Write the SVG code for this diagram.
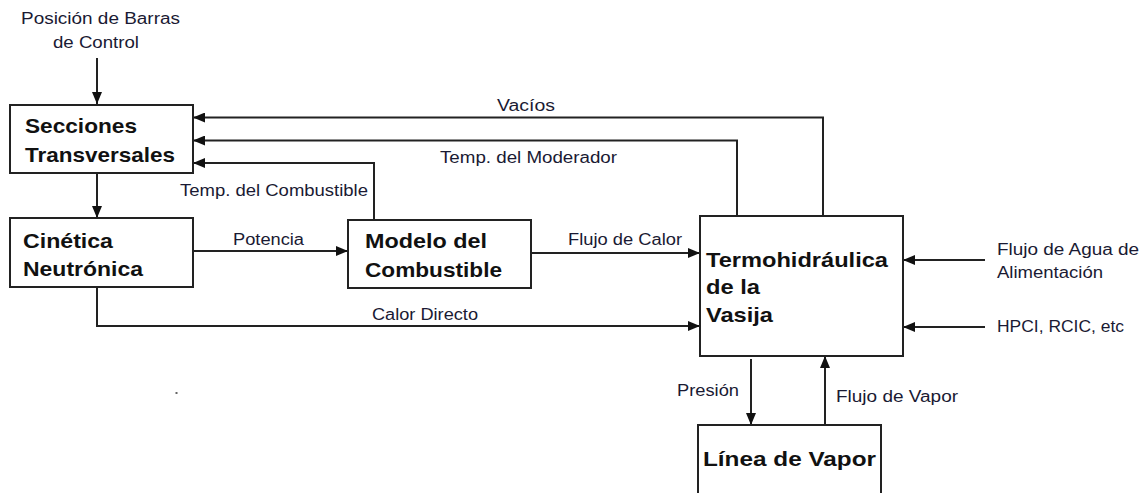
<svg xmlns="http://www.w3.org/2000/svg" width="1143" height="493" viewBox="0 0 1143 493">
<style>
.box{fill:#fff;stroke:#222;stroke-width:2}
.ln{fill:none;stroke:#222;stroke-width:2}
.t{font-family:"Liberation Sans",Arial,sans-serif;font-size:16px;fill:#1a1a33}
.b{font-family:"Liberation Sans",Arial,sans-serif;font-size:21px;font-weight:bold;fill:#111}
</style>
<defs>
<marker id="ah" viewBox="0 0 12 10" refX="12" refY="5" markerWidth="12" markerHeight="10" markerUnits="userSpaceOnUse" orient="auto">
<path d="M0,0 L12,5 L0,10 z" fill="#111"/>
</marker>
</defs>
<rect width="1143" height="493" fill="#fff"/>
<g id="connectors">
<path class="ln" d="M97,58 V104" marker-end="url(#ah)"/>
<path class="ln" d="M97,174 V218" marker-end="url(#ah)"/>
<path class="ln" d="M823,216 V117.5 H193" marker-end="url(#ah)"/>
<path class="ln" d="M737,216 V140.5 H193" marker-end="url(#ah)"/>
<path class="ln" d="M374,220 V163 H193" marker-end="url(#ah)"/>
<path class="ln" d="M193,251 H348" marker-end="url(#ah)"/>
<path class="ln" d="M531,253 H700" marker-end="url(#ah)"/>
<path class="ln" d="M97,287 V326 H700" marker-end="url(#ah)"/>
<path class="ln" d="M985,260 H903" marker-end="url(#ah)"/>
<path class="ln" d="M985,327 H903" marker-end="url(#ah)"/>
<path class="ln" d="M751,359 V425" marker-end="url(#ah)"/>
<path class="ln" d="M825,425 V356" marker-end="url(#ah)"/>
<text class="t" x="21" y="24" textLength="159" lengthAdjust="spacingAndGlyphs">Posición de Barras</text>
<text class="t" x="53" y="48" textLength="86" lengthAdjust="spacingAndGlyphs">de Control</text>
<text class="t" x="497" y="111" textLength="58" lengthAdjust="spacingAndGlyphs">Vacíos</text>
<text class="t" x="440" y="163" textLength="177" lengthAdjust="spacingAndGlyphs">Temp. del Moderador</text>
<text class="t" x="180" y="196" textLength="188" lengthAdjust="spacingAndGlyphs">Temp. del Combustible</text>
<text class="t" x="233" y="245" textLength="71" lengthAdjust="spacingAndGlyphs">Potencia</text>
<text class="t" x="568" y="245" textLength="114" lengthAdjust="spacingAndGlyphs">Flujo de Calor</text>
<text class="t" x="372" y="320" textLength="106" lengthAdjust="spacingAndGlyphs">Calor Directo</text>
<text class="t" x="997" y="255" textLength="142" lengthAdjust="spacingAndGlyphs">Flujo de Agua de</text>
<text class="t" x="997" y="278" textLength="106" lengthAdjust="spacingAndGlyphs">Alimentación</text>
<text class="t" x="997" y="332" textLength="127" lengthAdjust="spacingAndGlyphs">HPCI, RCIC, etc</text>
<text class="t" x="677" y="396" textLength="62" lengthAdjust="spacingAndGlyphs">Presión</text>
<text class="t" x="836" y="402" textLength="122" lengthAdjust="spacingAndGlyphs">Flujo de Vapor</text>
</g>
<g id="secciones">
<rect class="box" x="10" y="105" width="183" height="68"/>
<text class="b" x="25" y="133" textLength="112" lengthAdjust="spacingAndGlyphs">Secciones</text>
<text class="b" x="25" y="162" textLength="150" lengthAdjust="spacingAndGlyphs">Transversales</text>
</g>
<g id="cinetica">
<rect class="box" x="10" y="218" width="183" height="69"/>
<text class="b" x="23" y="248" textLength="90" lengthAdjust="spacingAndGlyphs">Cinética</text>
<text class="b" x="23" y="276" textLength="120" lengthAdjust="spacingAndGlyphs">Neutrónica</text>
</g>
<g id="modelo">
<rect class="box" x="348" y="220" width="183" height="68"/>
<text class="b" x="365" y="248" textLength="122" lengthAdjust="spacingAndGlyphs">Modelo del</text>
<text class="b" x="365" y="277" textLength="137" lengthAdjust="spacingAndGlyphs">Combustible</text>
</g>
<g id="termohidraulica">
<rect class="box" x="700" y="216" width="203" height="140"/>
<text class="b" x="706" y="267" textLength="182" lengthAdjust="spacingAndGlyphs">Termohidráulica</text>
<text class="b" x="706" y="294" textLength="54" lengthAdjust="spacingAndGlyphs">de la</text>
<text class="b" x="706" y="322" textLength="67" lengthAdjust="spacingAndGlyphs">Vasija</text>
</g>
<g id="linea">
<rect class="box" x="698" y="425" width="183" height="80"/>
<text class="b" x="703" y="466" textLength="173" lengthAdjust="spacingAndGlyphs">Línea de Vapor</text>
</g>
<rect x="175.5" y="392" width="2" height="2" fill="#666"/>
</svg>
